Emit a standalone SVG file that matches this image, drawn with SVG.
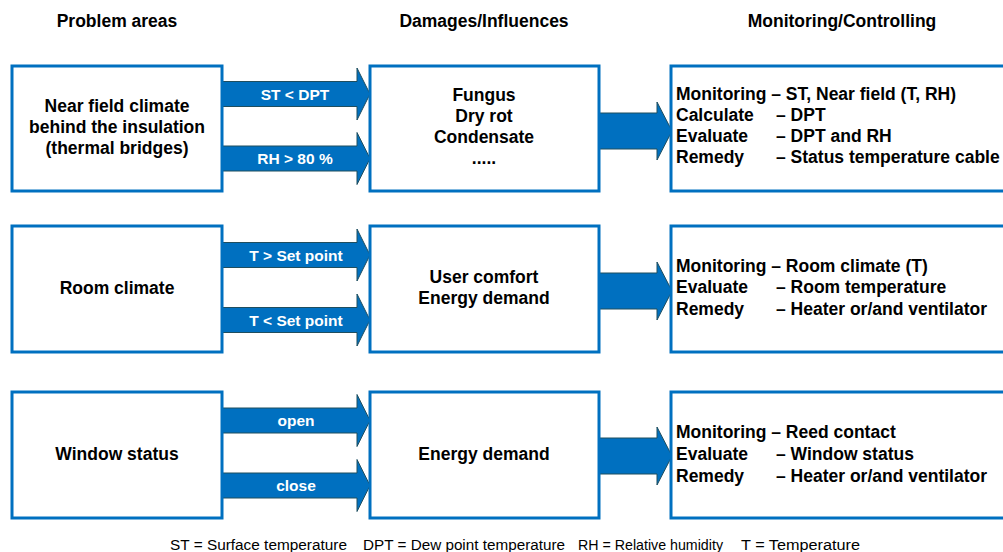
<svg xmlns="http://www.w3.org/2000/svg" width="1003" height="552" viewBox="0 0 1003 552">
<style>
.box{fill:#fff;stroke:#0070C0;stroke-width:3}
.arr{fill:#0070C0;stroke:#1F4E5F;stroke-width:1}
.t{font-family:"Liberation Sans",Arial,sans-serif;font-weight:bold;font-size:17.5px;fill:#000}
.c{text-anchor:middle}
.h{font-family:"Liberation Sans",Arial,sans-serif;font-weight:bold;font-size:17.5px;fill:#000;text-anchor:middle}
.a{font-family:"Liberation Sans",Arial,sans-serif;font-weight:bold;font-size:15.5px;fill:#fff;text-anchor:middle}
.f{font-family:"Liberation Sans",Arial,sans-serif;font-size:14px;fill:#000}
</style>
<defs>
<path id="sa" d="M0,-12.5 H135 V-26 L148,0 L135,26 V12.5 H0 Z"/>
<path id="la" d="M0,-18 H58 V-29 L73,0 L58,29 V18 H0 Z"/>
</defs>
<g id="headers">
<text class="h" x="117" y="27">Problem areas</text>
<text class="h" x="484" y="27">Damages/Influences</text>
<text class="h" x="842" y="27">Monitoring/Controlling</text>
</g>
<g id="connectors">
<use href="#sa" class="arr" x="222" y="94"/>
<use href="#sa" class="arr" x="222" y="158.5"/>
<use href="#sa" class="arr" x="222" y="255"/>
<use href="#sa" class="arr" x="222" y="320"/>
<use href="#sa" class="arr" x="222" y="420.5"/>
<use href="#sa" class="arr" x="222" y="485.5"/>
<use href="#la" class="arr" x="599" y="131"/>
<use href="#la" class="arr" x="599" y="291"/>
<use href="#la" class="arr" x="599" y="456"/>
<text class="a" x="295" y="99.5">ST &lt; DPT</text>
<text class="a" x="295" y="164">RH &gt; 80 %</text>
<text class="a" x="296" y="260.5">T &gt; Set point</text>
<text class="a" x="296" y="325.5">T &lt; Set point</text>
<text class="a" x="296" y="425.5">open</text>
<text class="a" x="296" y="490.5">close</text>
</g>
<g id="p1">
<rect class="box" x="12" y="66" width="210" height="125"/>
<text class="t c" x="117" y="112">Near field climate</text>
<text class="t c" x="117" y="133">behind the insulation</text>
<text class="t c" x="117" y="154">(thermal bridges)</text>
</g>
<g id="d1">
<rect class="box" x="370" y="66" width="229" height="125"/>
<text class="t c" x="484" y="101">Fungus</text>
<text class="t c" x="484" y="122">Dry rot</text>
<text class="t c" x="484" y="143">Condensate</text>
<text class="t c" x="484" y="164">.....</text>
</g>
<g id="m1">
<rect class="box" x="671" y="66" width="340" height="125"/>
<text class="t" x="676" y="100">Monitoring – ST, Near field (T, RH)</text>
<text class="t" x="676" y="121">Calculate</text><text class="t" x="776" y="121">– DPT</text>
<text class="t" x="676" y="142">Evaluate</text><text class="t" x="776" y="142">– DPT and RH</text>
<text class="t" x="676" y="163">Remedy</text><text class="t" x="776" y="163">– Status temperature cable</text>
</g>
<g id="p2">
<rect class="box" x="12" y="226" width="210" height="126"/>
<text class="t c" x="117" y="294">Room climate</text>
</g>
<g id="d2">
<rect class="box" x="370" y="226" width="229" height="126"/>
<text class="t c" x="484" y="283">User comfort</text>
<text class="t c" x="484" y="304">Energy demand</text>
</g>
<g id="m2">
<rect class="box" x="671" y="226" width="340" height="126"/>
<text class="t" x="676" y="272">Monitoring – Room climate (T)</text>
<text class="t" x="676" y="293">Evaluate</text><text class="t" x="776" y="293">– Room temperature</text>
<text class="t" x="676" y="315">Remedy</text><text class="t" x="776" y="315">– Heater or/and ventilator</text>
</g>
<g id="p3">
<rect class="box" x="12" y="392" width="210" height="126"/>
<text class="t c" x="117" y="460">Window status</text>
</g>
<g id="d3">
<rect class="box" x="370" y="392" width="229" height="126"/>
<text class="t c" x="484" y="460">Energy demand</text>
</g>
<g id="m3">
<rect class="box" x="671" y="392" width="340" height="126"/>
<text class="t" x="676" y="438">Monitoring – Reed contact</text>
<text class="t" x="676" y="460">Evaluate</text><text class="t" x="776" y="460">– Window status</text>
<text class="t" x="676" y="482">Remedy</text><text class="t" x="776" y="482">– Heater or/and ventilator</text>
</g>
<g id="legend">
<text class="f" x="170" y="550" textLength="177" lengthAdjust="spacingAndGlyphs">ST = Surface temperature</text>
<text class="f" x="363" y="550" textLength="202" lengthAdjust="spacingAndGlyphs">DPT = Dew point temperature</text>
<text class="f" x="578" y="550" textLength="145" lengthAdjust="spacingAndGlyphs">RH = Relative humidity</text>
<text class="f" x="741" y="550" textLength="119" lengthAdjust="spacingAndGlyphs">T = Temperature</text>
</g>
</svg>
